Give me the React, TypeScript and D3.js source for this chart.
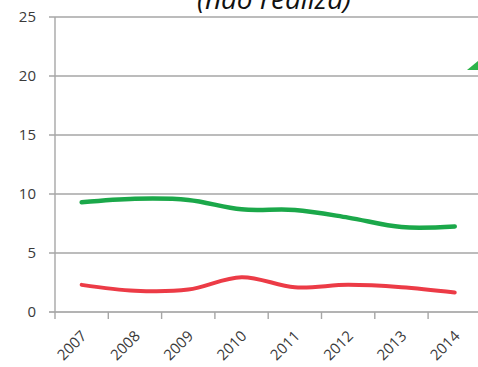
import React from "react";
import * as d3 from "d3";

const years = ["2007", "2008", "2009", "2010", "2011", "2012", "2013", "2014"];
const greenSeries = [9.3, 9.6, 9.5, 8.7, 8.65, 8.0, 7.2, 7.25];
const redSeries = [2.3, 1.8, 1.9, 2.95, 2.1, 2.3, 2.1, 1.65];
const yTicks = [0, 5, 10, 15, 20, 25];
const title = "(não realiza)";

const W = 478;
const H = 367;

export default function App() {
  const x = d3.scaleBand<string>().domain(years).range([55, 55 + 53.3 * 8]);
  const y = d3.scaleLinear().domain([0, 25]).range([312, 17]);
  const cx = (d: string) => (x(d) as number) + x.bandwidth() / 2;
  const line = d3
    .line<number>()
    .x((_, i) => cx(years[i]))
    .y((v) => y(v))
    .curve(d3.curveCatmullRom.alpha(0.5));
  const font = "'Open Sans', 'DejaVu Sans', sans-serif";
  return (
    <svg
      width={W}
      height={H}
      style={{ position: "absolute", left: 0, top: 0, background: "#fff" }}
    >
      <rect width={W} height={H} fill="#fff" />
      {yTicks.map((t) => (
        <g key={t}>
          <line
            x1={49}
            x2={W}
            y1={y(t)}
            y2={y(t)}
            stroke={t === 0 ? "#9a9a9a" : "#a6a6a6"}
            strokeWidth={1.4}
          />
          <text
            x={36}
            y={y(t)}
            dy="0.33em"
            textAnchor="end"
            fontFamily={font}
            fontSize={15}
            fill="#3a3a3a"
          >
            {t}
          </text>
        </g>
      ))}
      <line x1={55} x2={55} y1={y(25)} y2={y(0) + 7} stroke="#a6a6a6" strokeWidth={1.4} />
      {years.map((yr) => (
        <line
          key={"t" + yr}
          x1={(x(yr) as number) + x.bandwidth()}
          x2={(x(yr) as number) + x.bandwidth()}
          y1={y(0)}
          y2={y(0) + 7}
          stroke="#a6a6a6"
          strokeWidth={1.4}
        />
      ))}
      {years.map((yr) => (
        <text
          key={"l" + yr}
          transform={`translate(${cx(yr) + 6},${y(0) + 25}) rotate(-45)`}
          textAnchor="end"
          fontFamily={font}
          fontSize={15}
          fill="#3a3a3a"
        >
          {yr}
        </text>
      ))}
      <path d={line(greenSeries) || ""} fill="none" stroke="#1ba84a" strokeWidth={4.5} strokeLinecap="round" strokeLinejoin="round" />
      <path d={line(redSeries) || ""} fill="none" stroke="#ec3b46" strokeWidth={4} strokeLinecap="round" strokeLinejoin="round" />
      <text
        x={274}
        y={9}
        textAnchor="middle"
        fontFamily={font}
        fontStyle="italic"
        fontSize={28}
        fill="#111"
      >
        {title}
      </text>
      <polygon points="467,70 478,61 478,70" fill="#2db34a" />
    </svg>
  );
}
